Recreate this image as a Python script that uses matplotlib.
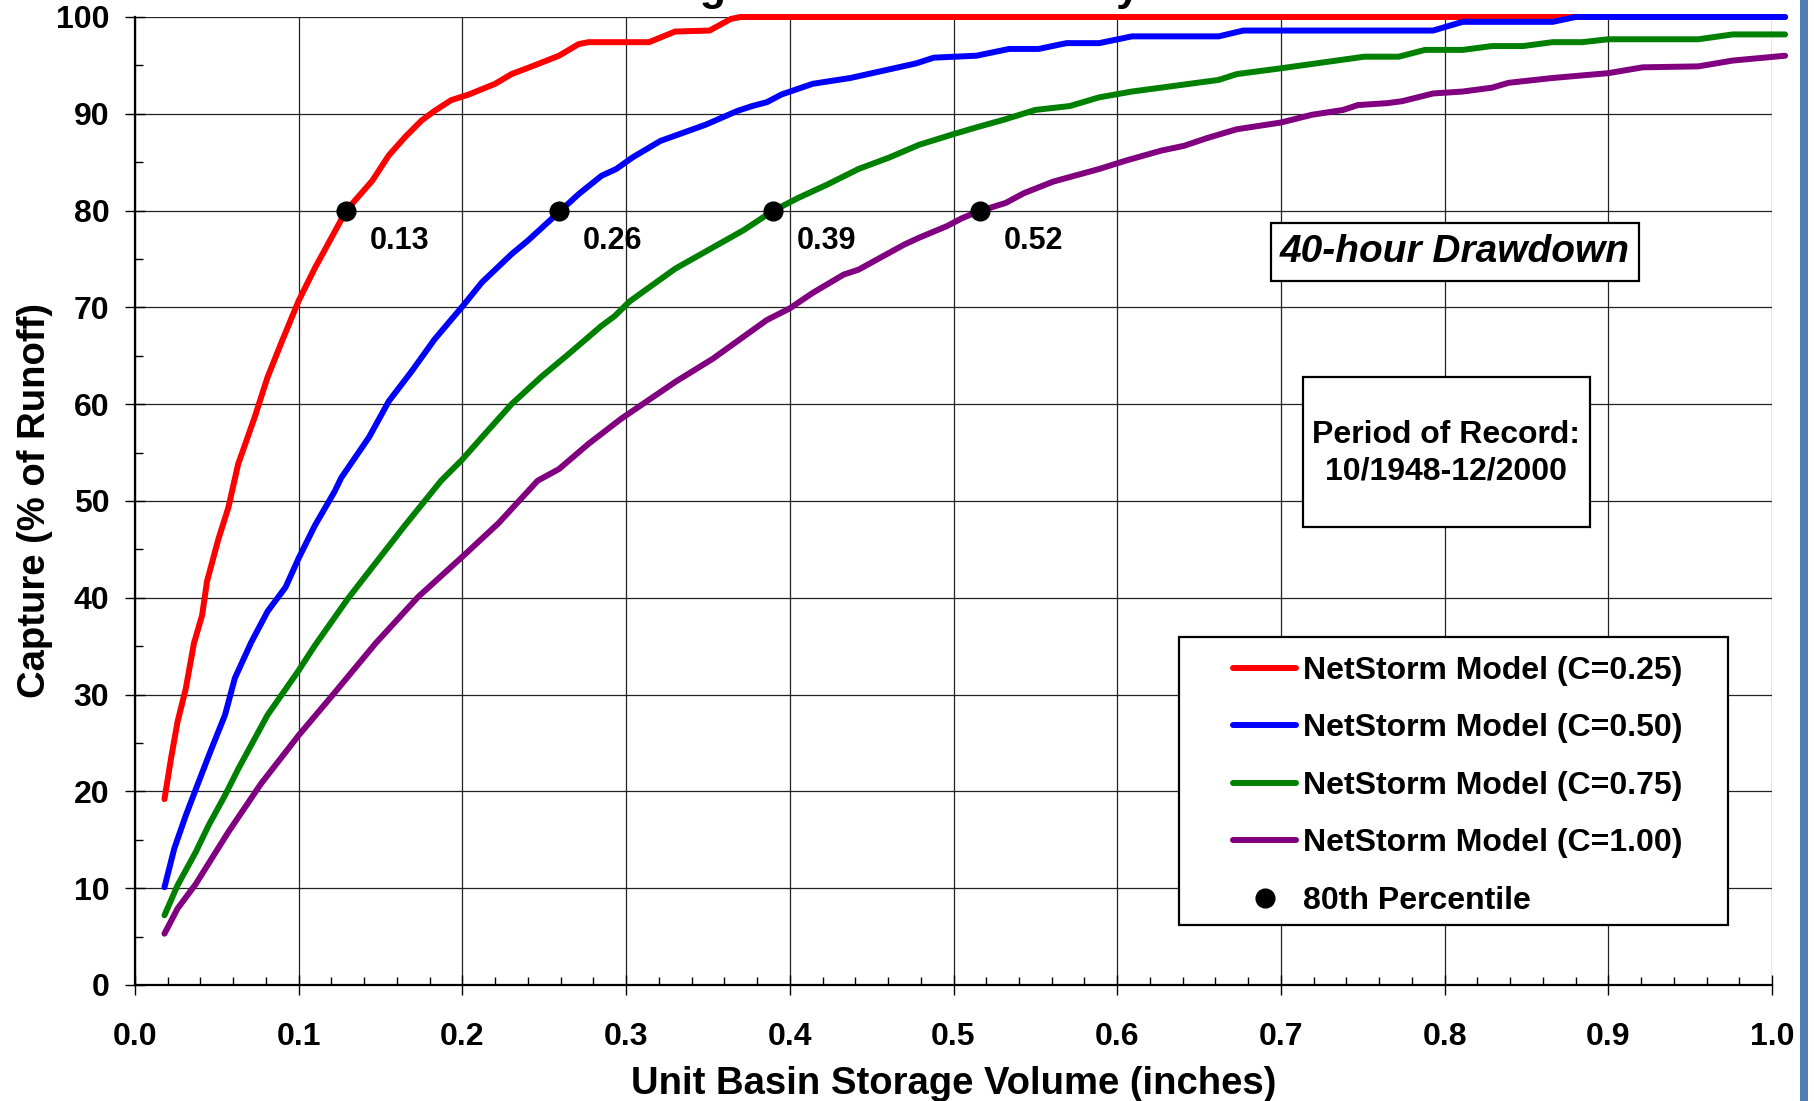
import matplotlib
matplotlib.use('Agg')
import matplotlib.pyplot as plt
from matplotlib.lines import Line2D
from matplotlib.patches import Rectangle
from matplotlib.ticker import MultipleLocator, FormatStrFormatter

plt.rcParams['font.family'] = ['Liberation Sans', 'DejaVu Sans']
plt.rcParams['font.weight'] = 'bold'

# ---------------- data ----------------
red_x = [0.018, 0.022, 0.026, 0.031, 0.036, 0.041, 0.044, 0.051, 0.057, 0.063,
         0.073, 0.081, 0.090, 0.100, 0.110, 0.120, 0.129, 0.145, 0.155, 0.165,
         0.175, 0.183, 0.193, 0.204, 0.220, 0.230, 0.244, 0.259, 0.271, 0.277,
         0.314, 0.330, 0.351, 0.364, 0.370, 1.008]
red_y = [19.2, 23.4, 27.2, 30.6, 35.3, 38.2, 41.7, 46.1, 49.3, 53.8,
         58.6, 62.8, 66.6, 70.7, 74.1, 77.2, 80.0, 83.1, 85.7, 87.6,
         89.3, 90.3, 91.4, 92.0, 93.1, 94.1, 95.0, 96.0, 97.2, 97.4,
         97.4, 98.5, 98.6, 99.8, 100, 100]

blue_x = [0.018, 0.024, 0.031, 0.038, 0.046, 0.055, 0.061, 0.071, 0.081, 0.092,
          0.100, 0.110, 0.122, 0.126, 0.143, 0.155, 0.169, 0.183, 0.201, 0.212,
          0.230, 0.240, 0.260, 0.271, 0.285, 0.294, 0.304, 0.321, 0.349, 0.368,
          0.377, 0.386, 0.395, 0.414, 0.437, 0.461, 0.477, 0.488, 0.514, 0.534,
          0.552, 0.569, 0.589, 0.609, 0.662, 0.677, 0.793, 0.811, 0.866, 0.880,
          1.008]
blue_y = [10.1, 14.1, 17.5, 20.6, 24.1, 27.9, 31.7, 35.4, 38.6, 41.1,
          44.1, 47.5, 51.0, 52.4, 56.6, 60.3, 63.4, 66.7, 70.3, 72.6,
          75.5, 76.9, 80.0, 81.7, 83.6, 84.3, 85.5, 87.2, 88.9, 90.3,
          90.8, 91.2, 92.0, 93.1, 93.7, 94.6, 95.2, 95.8, 96.0, 96.7,
          96.7, 97.3, 97.3, 98.0, 98.0, 98.6, 98.6, 99.5, 99.5, 100,
          100]

green_x = [0.018, 0.026, 0.037, 0.045, 0.055, 0.063, 0.081, 0.100, 0.110, 0.130,
           0.147, 0.165, 0.187, 0.200, 0.212, 0.230, 0.248, 0.265, 0.285, 0.293,
           0.302, 0.330, 0.351, 0.372, 0.389, 0.405, 0.423, 0.442, 0.461, 0.479,
           0.500, 0.514, 0.531, 0.550, 0.571, 0.589, 0.609, 0.662, 0.673, 0.700,
           0.751, 0.772, 0.788, 0.811, 0.829, 0.848, 0.866, 0.884, 0.900, 0.955,
           0.976, 1.008]
green_y = [7.2, 10.3, 13.7, 16.5, 19.6, 22.3, 27.9, 32.5, 35.1, 39.9,
           43.6, 47.5, 52.1, 54.3, 56.6, 60.0, 62.8, 65.2, 68.1, 69.1,
           70.6, 74.0, 76.0, 78.0, 79.9, 81.3, 82.7, 84.3, 85.5, 86.8,
           87.9, 88.6, 89.4, 90.4, 90.8, 91.7, 92.3, 93.5, 94.1, 94.7,
           95.9, 95.9, 96.6, 96.6, 97.0, 97.0, 97.4, 97.4, 97.7, 97.7,
           98.2, 98.2]

purple_x = [0.018, 0.026, 0.037, 0.057, 0.077, 0.100, 0.120, 0.147, 0.173, 0.201,
            0.222, 0.246, 0.259, 0.277, 0.297, 0.330, 0.353, 0.386, 0.400, 0.414,
            0.433, 0.442, 0.470, 0.479, 0.496, 0.505, 0.515, 0.532, 0.543, 0.561,
            0.589, 0.606, 0.627, 0.641, 0.655, 0.673, 0.700, 0.719, 0.738, 0.747,
            0.765, 0.774, 0.793, 0.811, 0.829, 0.839, 0.866, 0.900, 0.921, 0.955,
            0.976, 1.008]
purple_y = [5.3, 7.9, 10.4, 15.8, 20.8, 25.8, 29.8, 35.3, 40.1, 44.4,
            47.7, 52.1, 53.3, 55.9, 58.5, 62.3, 64.7, 68.7, 69.9, 71.5,
            73.4, 73.9, 76.5, 77.2, 78.4, 79.2, 79.9, 80.8, 81.8, 83.0,
            84.3, 85.2, 86.2, 86.7, 87.5, 88.4, 89.1, 89.9, 90.4, 90.9,
            91.1, 91.3, 92.1, 92.3, 92.7, 93.2, 93.7, 94.2, 94.8, 94.9,
            95.5, 96.0]

series_labels = ['NetStorm Model (C=0.25)', 'NetStorm Model (C=0.50)',
                 'NetStorm Model (C=0.75)', 'NetStorm Model (C=1.00)']
series_colors = ['#ff0000', '#0000ff', '#008000', '#800080']

pct_x = [0.129, 0.259, 0.390, 0.516]
pct_y = [80, 80, 80, 80]
pct_labels = ['0.13', '0.26', '0.39', '0.52']
pct_legend = '80th Percentile'

x_ticks = [0.0, 0.1, 0.2, 0.3, 0.4, 0.5, 0.6, 0.7, 0.8, 0.9, 1.0]
y_ticks = [0, 10, 20, 30, 40, 50, 60, 70, 80, 90, 100]

title = 'Storage Volume Sensitivity'
xlabel = 'Unit Basin Storage Volume (inches)'
ylabel = 'Capture (% of Runoff)'
box1_text = '40-hour Drawdown'
box2_text = 'Period of Record:\n10/1948-12/2000'

# ---------------- figure ----------------
W, H = 1814, 1101
fig = plt.figure(figsize=(W / 100, H / 100), dpi=100)
fig.patch.set_facecolor('white')
ax = fig.add_axes([135 / W, (H - 985) / H, 1637 / W, 968 / H])

xs = [red_x, blue_x, green_x, purple_x]
ys = [red_y, blue_y, green_y, purple_y]
for x, y, c in zip(xs, ys, series_colors):
    ax.plot(x, y, color=c, lw=4.3, solid_capstyle='round',
            solid_joinstyle='round', clip_on=False, zorder=3)

ax.plot(pct_x, pct_y, 'o', color='black', ms=13.5, zorder=6, clip_on=False)
for px, py, lab in zip(pct_x, pct_y, pct_labels):
    ax.annotate(lab, (px, py), xytext=(17, -11), textcoords='offset points',
                ha='left', va='top', fontsize=22, fontweight='bold')

ax.set_xlim(0, 1.0)
ax.set_ylim(0, 100)
ax.set_xticks(x_ticks)
ax.set_yticks(y_ticks)
ax.xaxis.set_major_formatter(FormatStrFormatter('%.1f'))
ax.xaxis.set_minor_locator(MultipleLocator(0.02))
ax.yaxis.set_minor_locator(MultipleLocator(5))
ax.tick_params(axis='x', which='major', direction='inout', length=14, width=1,
               labelsize=23, pad=19.5)
ax.tick_params(axis='y', which='major', direction='inout', length=14, width=1,
               labelsize=23, pad=11.5)
ax.tick_params(which='minor', direction='in', length=5.5, width=1)

ax.grid(True, which='major', color='#222222', lw=0.9)
ax.set_axisbelow(True)
for s in ['top', 'right']:
    ax.spines[s].set_visible(False)
for s in ['left', 'bottom']:
    ax.spines[s].set_linewidth(1.6)
    ax.spines[s].set_color('black')

ax.set_xlabel(xlabel, fontsize=27.5, fontweight='bold', labelpad=10)
ax.set_ylabel(ylabel, fontsize=27.5, fontweight='bold', labelpad=2)

# annotation boxes
ax.add_patch(Rectangle((0.6938, 0.7273), 0.9189 - 0.6938, 0.7875 - 0.7273,
                       transform=ax.transAxes, facecolor='white',
                       edgecolor='black', lw=1.6, zorder=4))
ax.text(0.8064, 0.757, box1_text, transform=ax.transAxes, ha='center',
        va='center', fontsize=28, fontweight='bold', fontstyle='italic', zorder=5)
ax.add_patch(Rectangle((0.7133, 0.4728), 0.8888 - 0.7133, 0.6278 - 0.4728,
                       transform=ax.transAxes, facecolor='white',
                       edgecolor='black', lw=1.6, zorder=4))
ax.text(0.801, 0.5496, box2_text, transform=ax.transAxes, ha='center',
        va='center', fontsize=23, fontweight='bold', linespacing=1.3, zorder=5)

# legend
ax.add_patch(Rectangle((0.6377, 0.062), 0.9731 - 0.6377, 0.3595 - 0.062,
                       transform=ax.transAxes, facecolor='white',
                       edgecolor='black', lw=1.6, zorder=4))
handles = [Line2D([], [], color=c, lw=4.3, solid_capstyle='round')
           for c in series_colors]
handles.append(Line2D([], [], marker='o', ls='none', color='black', ms=13.5))
leg = ax.legend(handles, series_labels + [pct_legend], loc='upper left',
                bbox_to_anchor=(0.6705, 0.340), frameon=False, borderpad=0,
                borderaxespad=0, handlelength=2.0, handletextpad=0.2,
                labelspacing=0.86, prop={'size': 23, 'weight': 'bold'})
leg.set_zorder(6)

# title: only its descenders fall inside the picture, as in the reference
fig.text(590 / W, 1.0, title, ha='left', va='baseline', fontsize=31,
         fontweight='bold')

# slide border stripe at right edge
fig.add_artist(Rectangle((1800 / W, 0), 8 / W, 1, transform=fig.transFigure,
                         facecolor='#4f7cb3', edgecolor='none'))

fig.savefig('out.png', dpi=100)
